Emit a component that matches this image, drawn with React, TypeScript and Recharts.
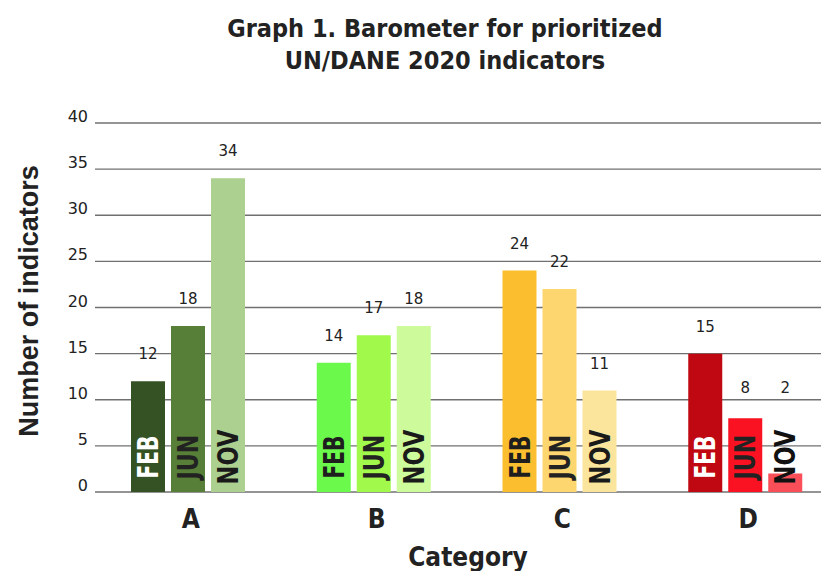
import React from "react";
import { BarChart, Bar, XAxis, YAxis, CartesianGrid, Cell, LabelList } from "recharts";

// chart values
const categories = ["A", "B", "C", "D"];
const months = ["FEB", "JUN", "NOV"];
const febValues = [12, 14, 24, 15];
const junValues = [18, 17, 22, 8];
const novValues = [34, 18, 11, 2];
const yTicks = [0, 5, 10, 15, 20, 25, 30, 35, 40];

// colours per category
const febColors = ["#345223", "#6bfa4b", "#fbbe2f", "#c00812"];
const junColors = ["#577f37", "#a1f94b", "#fdd66f", "#fa1222"];
const novColors = ["#acd08f", "#cdfb9c", "#fbe59c", "#fa4f58"];
const febText = ["#ffffff", "#1e1e1e", "#1e1e1e", "#ffffff"];
const junText = ["#222222", "#222222", "#222222", "#222222"];
const novText = ["#1a1a1a", "#1a1a1a", "#1a1a1a", "#111111"];

const data = categories.map((c, i) => ({
  cat: c,
  feb: febValues[i],
  jun: junValues[i],
  nov: novValues[i],
}));

const condensed = { fontFamily: "'DejaVu Sans', sans-serif", fontStretch: "condensed" as const };
const textLen: Record<string, number> = { FEB: 43, JUN: 45, NOV: 55 };

const ValueLabel = (p: any) => {
  const top = p.y;
  const bottom = p.y + p.height;
  const cy = Math.min(top - 27, bottom - 104);
  return (
    <text
      x={p.x + p.width / 2}
      y={cy + 5}
      textAnchor="middle"
      fontSize={15}
      fill="#222"
      style={{ fontFamily: "'DejaVu Sans', sans-serif" }}
    >
      {p.value}
    </text>
  );
};

const monthLabel = (month: string, colors: string[]) => (p: any) => {
  const cx = p.x + p.width / 2;
  const cy = p.y + p.height - 35;
  return (
    <text
      x={cx}
      y={cy}
      dy="0.36em"
      transform={`rotate(-90, ${cx}, ${cy})`}
      textAnchor="middle"
      fontSize={28}
      fontWeight="bold"
      fill={colors[p.index]}
      textLength={textLen[month]}
      lengthAdjust="spacingAndGlyphs"
      style={{ fontFamily: "'DejaVu Sans', sans-serif" }}
    >
      {month}
    </text>
  );
};

const YTick = (p: any) => (
  <text
    x={p.x - 7}
    y={p.y - 1}
    textAnchor="end"
    fontSize={16}
    fill="#222"
    style={{ fontFamily: "'DejaVu Sans', sans-serif" }}
  >
    {p.payload.value}
  </text>
);

const XTick = (p: any) => (
  <text
    x={p.x + 3}
    y={p.y + 36}
    textAnchor="middle"
    fontSize={26}
    fontWeight="bold"
    fill="#222"
    style={condensed}
  >
    {p.payload.value}
  </text>
);

export default function App() {
  const series = [
    { key: "feb", colors: febColors, text: febText, month: months[0] },
    { key: "jun", colors: junColors, text: junText, month: months[1] },
    { key: "nov", colors: novColors, text: novText, month: months[2] },
  ];
  return (
    <div style={{ position: "relative", width: 821, height: 563, overflow: "hidden", background: "#fff" }}>
      <BarChart
        width={830}
        height={563}
        data={data}
        margin={{ top: 115, right: 0, bottom: 39, left: 0 }}
        barSize={34}
        barGap={6}
      >
        <CartesianGrid horizontal vertical={false} stroke="#707070" strokeWidth={1.4} />
        <XAxis
          dataKey="cat"
          height={40}
          axisLine={false}
          tickLine={false}
          tickSize={0}
          tickMargin={0}
          tick={<XTick />}
          interval={0}
        />
        <YAxis
          width={87}
          domain={[0, 40]}
          ticks={yTicks}
          axisLine={false}
          tickLine={false}
          tickSize={0}
          tickMargin={0}
          tick={<YTick />}
          interval={0}
        />
        {series.map((s) => (
          <Bar key={s.key} dataKey={s.key} isAnimationActive={false}>
            {data.map((d, i) => (
              <Cell key={d.cat} fill={s.colors[i]} />
            ))}
            <LabelList dataKey={s.key} content={ValueLabel} />
            <LabelList dataKey={s.key} content={monthLabel(s.month, s.text)} />
          </Bar>
        ))}
      </BarChart>
      <svg
        width={821}
        height={563}
        style={{ position: "absolute", left: 0, top: 0, pointerEvents: "none" }}
      >
        <text x={437} y={29} textAnchor="middle" fontSize={25} fontWeight="bold" fill="#222" style={condensed}>
          Graph 1. Barometer for prioritized
        </text>
        <text x={437} y={61} textAnchor="middle" fontSize={25} fontWeight="bold" fill="#222" style={condensed}>
          UN/DANE 2020 indicators
        </text>
        <text
          x={20}
          y={293}
          dy="0.36em"
          transform="rotate(-90, 20, 293)"
          textAnchor="middle"
          fontSize={27}
          fontWeight="bold"
          fill="#222"
          style={{ fontFamily: "'Liberation Sans', Arial, sans-serif" }}
        >
          Number of indicators
        </text>
        <text x={460} y={558} textAnchor="middle" fontSize={26} fontWeight="bold" fill="#222" style={condensed}>
          Category
        </text>
      </svg>
    </div>
  );
}
